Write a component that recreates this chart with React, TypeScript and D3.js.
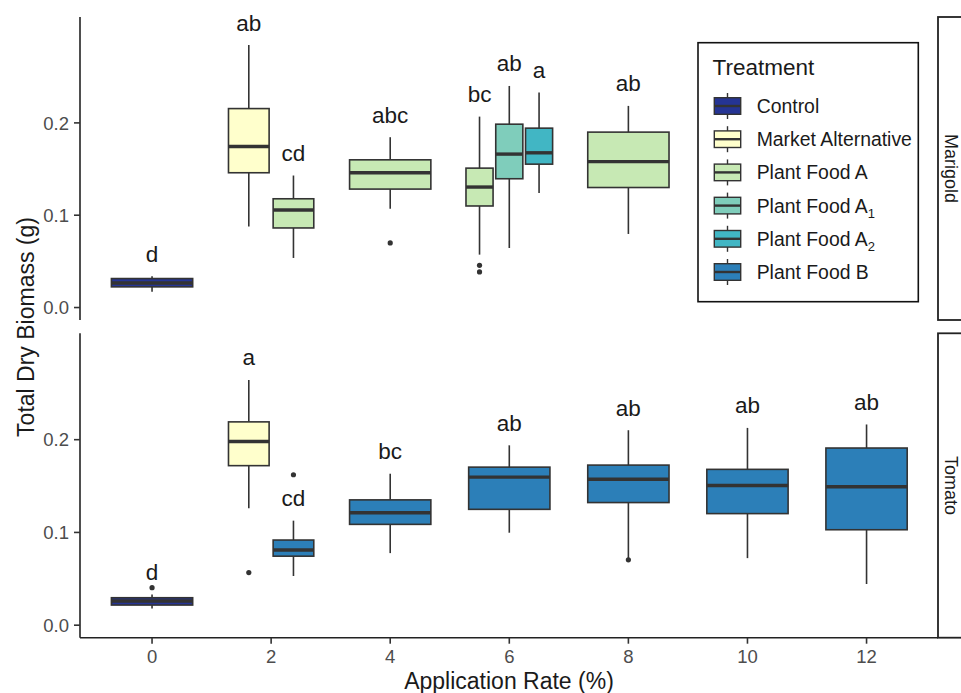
import React from "react";
import * as d3 from "d3";

// ---------- data ----------
const facets = ["Marigold", "Tomato"];
const treatments = ["Control", "Market Alternative", "Plant Food A", "Plant Food A1", "Plant Food A2", "Plant Food B"];
const treatmentColors = ["#253494", "#ffffcc", "#c7e9b4", "#7fcdbb", "#41b6c4", "#2c7fb8"];
const legendMain = ["Control", "Market Alternative", "Plant Food A", "Plant Food A", "Plant Food A", "Plant Food B"];
const legendSub = ["", "", "", "1", "2", ""];
const xTicks = [0, 2, 4, 6, 8, 10, 12];
const yTicks = [0.0, 0.1, 0.2];

const boxFacet = ["Marigold", "Marigold", "Marigold", "Marigold", "Marigold", "Marigold", "Marigold", "Marigold",
  "Tomato", "Tomato", "Tomato", "Tomato", "Tomato", "Tomato", "Tomato", "Tomato"];
const boxRate = [0, 2, 2, 4, 6, 6, 6, 8, 0, 2, 2, 4, 6, 8, 10, 12];
const boxTreatment = ["Control", "Market Alternative", "Plant Food A", "Plant Food A", "Plant Food A", "Plant Food A1", "Plant Food A2", "Plant Food A",
  "Control", "Market Alternative", "Plant Food B", "Plant Food B", "Plant Food B", "Plant Food B", "Plant Food B", "Plant Food B"];
const boxWhiskerLow = [0.017, 0.0879, 0.0537, 0.107, 0.0573, 0.0645, 0.124, 0.0797, 0.018, 0.126, 0.053, 0.0777, 0.0997, 0.072, 0.0723, 0.0444];
const boxQ1 = [0.0224, 0.146, 0.0862, 0.1283, 0.110, 0.1395, 0.1553, 0.130, 0.0217, 0.172, 0.0744, 0.1087, 0.1249, 0.1322, 0.1203, 0.1029];
const boxMedian = [0.0265, 0.1744, 0.1056, 0.146, 0.1305, 0.1662, 0.1676, 0.158, 0.026, 0.198, 0.081, 0.1213, 0.1596, 0.1574, 0.1506, 0.1492];
const boxQ3 = [0.0314, 0.2155, 0.1178, 0.16, 0.151, 0.1986, 0.1943, 0.19, 0.0296, 0.2192, 0.0918, 0.1351, 0.1704, 0.1726, 0.168, 0.191];
const boxWhiskerHigh = [0.034, 0.2843, 0.143, 0.1845, 0.2068, 0.24, 0.2328, 0.2184, 0.033, 0.2644, 0.1127, 0.1633, 0.1939, 0.2102, 0.2127, 0.2164];
const boxOutliers = [[], [], [], [0.07], [0.0457, 0.0386], [], [], [], [0.0404], [0.0567], [0.1622], [], [], [0.0705], [], []];
const boxLetters = ["d", "ab", "cd", "abc", "bc", "ab", "a", "ab", "d", "a", "cd", "bc", "ab", "ab", "ab", "ab"];

// ---------- layout ----------
const W = 961, H = 693;
const plotLeft = 80, plotRight = 938;
const panelRanges: [number, number][] = [[320, 17], [637.7, 333.3]];
const dodgeWidth = 1.5;
const boxFrac = 0.91;
const FONT = "'Liberation Sans', Arial, Helvetica, sans-serif";
const stroke = "#333333";

export default function App() {
  const x = d3.scaleLinear().domain([-1.21, 13.2]).range([plotLeft, plotRight]);
  const yScales = panelRanges.map((r) => d3.scaleLinear().domain([-0.0135, 0.3147]).range(r));
  const color = d3.scaleOrdinal<string, string>().domain(treatments).range(treatmentColors);

  const boxes = boxRate.map((rate, i) => ({
    i,
    facet: boxFacet[i],
    rate,
    treatment: boxTreatment[i],
    wl: boxWhiskerLow[i],
    q1: boxQ1[i],
    med: boxMedian[i],
    q3: boxQ3[i],
    wh: boxWhiskerHigh[i],
    out: boxOutliers[i],
    letter: boxLetters[i],
  }));
  const groups = d3.group(boxes, (b) => b.facet + "|" + b.rate);
  const placed = boxes.map((b) => {
    const g = groups.get(b.facet + "|" + b.rate)!;
    const n = g.length;
    const k = g.indexOf(b);
    const slot = dodgeWidth / n;
    const cx = b.rate + (k - (n - 1) / 2) * slot;
    const hw = (slot * boxFrac) / 2;
    return { ...b, cx, x0: cx - hw, x1: cx + hw };
  });

  return (
    <svg width={W} height={H} style={{ position: "absolute", left: 0, top: 0, background: "#fff" }} fontFamily={FONT}>
      <rect x={0} y={0} width={W} height={H} fill="#ffffff" />
      {facets.map((f, fi) => {
        const y = yScales[fi];
        const [yb, yt] = panelRanges[fi];
        return (
          <g key={f}>
            {placed.filter((b) => b.facet === f).map((b) => {
              const px0 = x(b.x0), px1 = x(b.x1), pcx = x(b.cx);
              return (
                <g key={b.i}>
                  <line x1={pcx} x2={pcx} y1={y(b.wh)} y2={y(b.q3)} stroke={stroke} strokeWidth={1.6} />
                  <line x1={pcx} x2={pcx} y1={y(b.q1)} y2={y(b.wl)} stroke={stroke} strokeWidth={1.6} />
                  <rect x={px0} y={y(b.q3)} width={px1 - px0} height={Math.max(0.5, y(b.q1) - y(b.q3))}
                    fill={color(b.treatment)} stroke={stroke} strokeWidth={1.6} />
                  <line x1={px0} x2={px1} y1={y(b.med)} y2={y(b.med)} stroke={stroke} strokeWidth={3.4} />
                  {b.out.map((o, oi) => (
                    <circle key={oi} cx={pcx} cy={y(o)} r={2.6} fill={stroke} />
                  ))}
                  <text x={pcx} y={y(b.wh) - 14.5} textAnchor="middle" fontSize={22.5} fill="#1a1a1a">{b.letter}</text>
                </g>
              );
            })}
            <line x1={plotLeft} x2={plotLeft} y1={yb} y2={yt} stroke="#222" strokeWidth={1.6} />
            {yTicks.map((t) => (
              <g key={t}>
                <line x1={plotLeft - 6} x2={plotLeft} y1={y(t)} y2={y(t)} stroke="#333" strokeWidth={1.6} />
                <text x={plotLeft - 11} y={y(t)} dy="0.36em" textAnchor="end" fontSize={18.5} fill="#4d4d4d">{t.toFixed(1)}</text>
              </g>
            ))}
            <rect x={plotRight} y={yt} width={40} height={yb - yt} fill="#ffffff" stroke="#222" strokeWidth={1.8} />
            <text transform={`translate(951.5,${(yt + yb) / 2}) rotate(90)`} textAnchor="middle" dy="0.35em" fontSize={18} fill="#1a1a1a">{f}</text>
          </g>
        );
      })}
      <line x1={plotLeft} x2={plotRight} y1={panelRanges[1][0]} y2={panelRanges[1][0]} stroke="#222" strokeWidth={1.6} />
      {xTicks.map((t) => (
        <g key={t}>
          <line x1={x(t)} x2={x(t)} y1={panelRanges[1][0]} y2={panelRanges[1][0] + 6} stroke="#333" strokeWidth={1.6} />
          <text x={x(t)} y={663} textAnchor="middle" fontSize={18.5} fill="#4d4d4d">{t}</text>
        </g>
      ))}
      <text x={(plotLeft + plotRight) / 2} y={689} textAnchor="middle" fontSize={23} fill="#1a1a1a">Application Rate (%)</text>
      <text transform={`translate(33.5,327) rotate(-90)`} textAnchor="middle" fontSize={23} fill="#1a1a1a">Total Dry Biomass (g)</text>
      <rect x={698} y={42.7} width={220.3} height={259} fill="#ffffff" stroke="#111" strokeWidth={1.6} />
      <text x={712.5} y={75} fontSize={22.5} fill="#1a1a1a">Treatment</text>
      {treatments.map((t, i) => {
        const cy = 106 + i * 33.2;
        return (
          <g key={t}>
            <line x1={727.5} x2={727.5} y1={cy - 13} y2={cy + 13} stroke={stroke} strokeWidth={1.4} />
            <rect x={714.3} y={cy - 8.3} width={26.4} height={16.6} fill={color(t)} stroke={stroke} strokeWidth={1.4} />
            <line x1={714.3} x2={740.7} y1={cy} y2={cy} stroke={stroke} strokeWidth={2.4} />
            <text x={756.7} y={cy} dy="0.36em" fontSize={19.4} fill="#1a1a1a">
              {legendMain[i]}
              {legendSub[i] ? <tspan fontSize={13} dy={5}>{legendSub[i]}</tspan> : null}
            </text>
          </g>
        );
      })}
    </svg>
  );
}
